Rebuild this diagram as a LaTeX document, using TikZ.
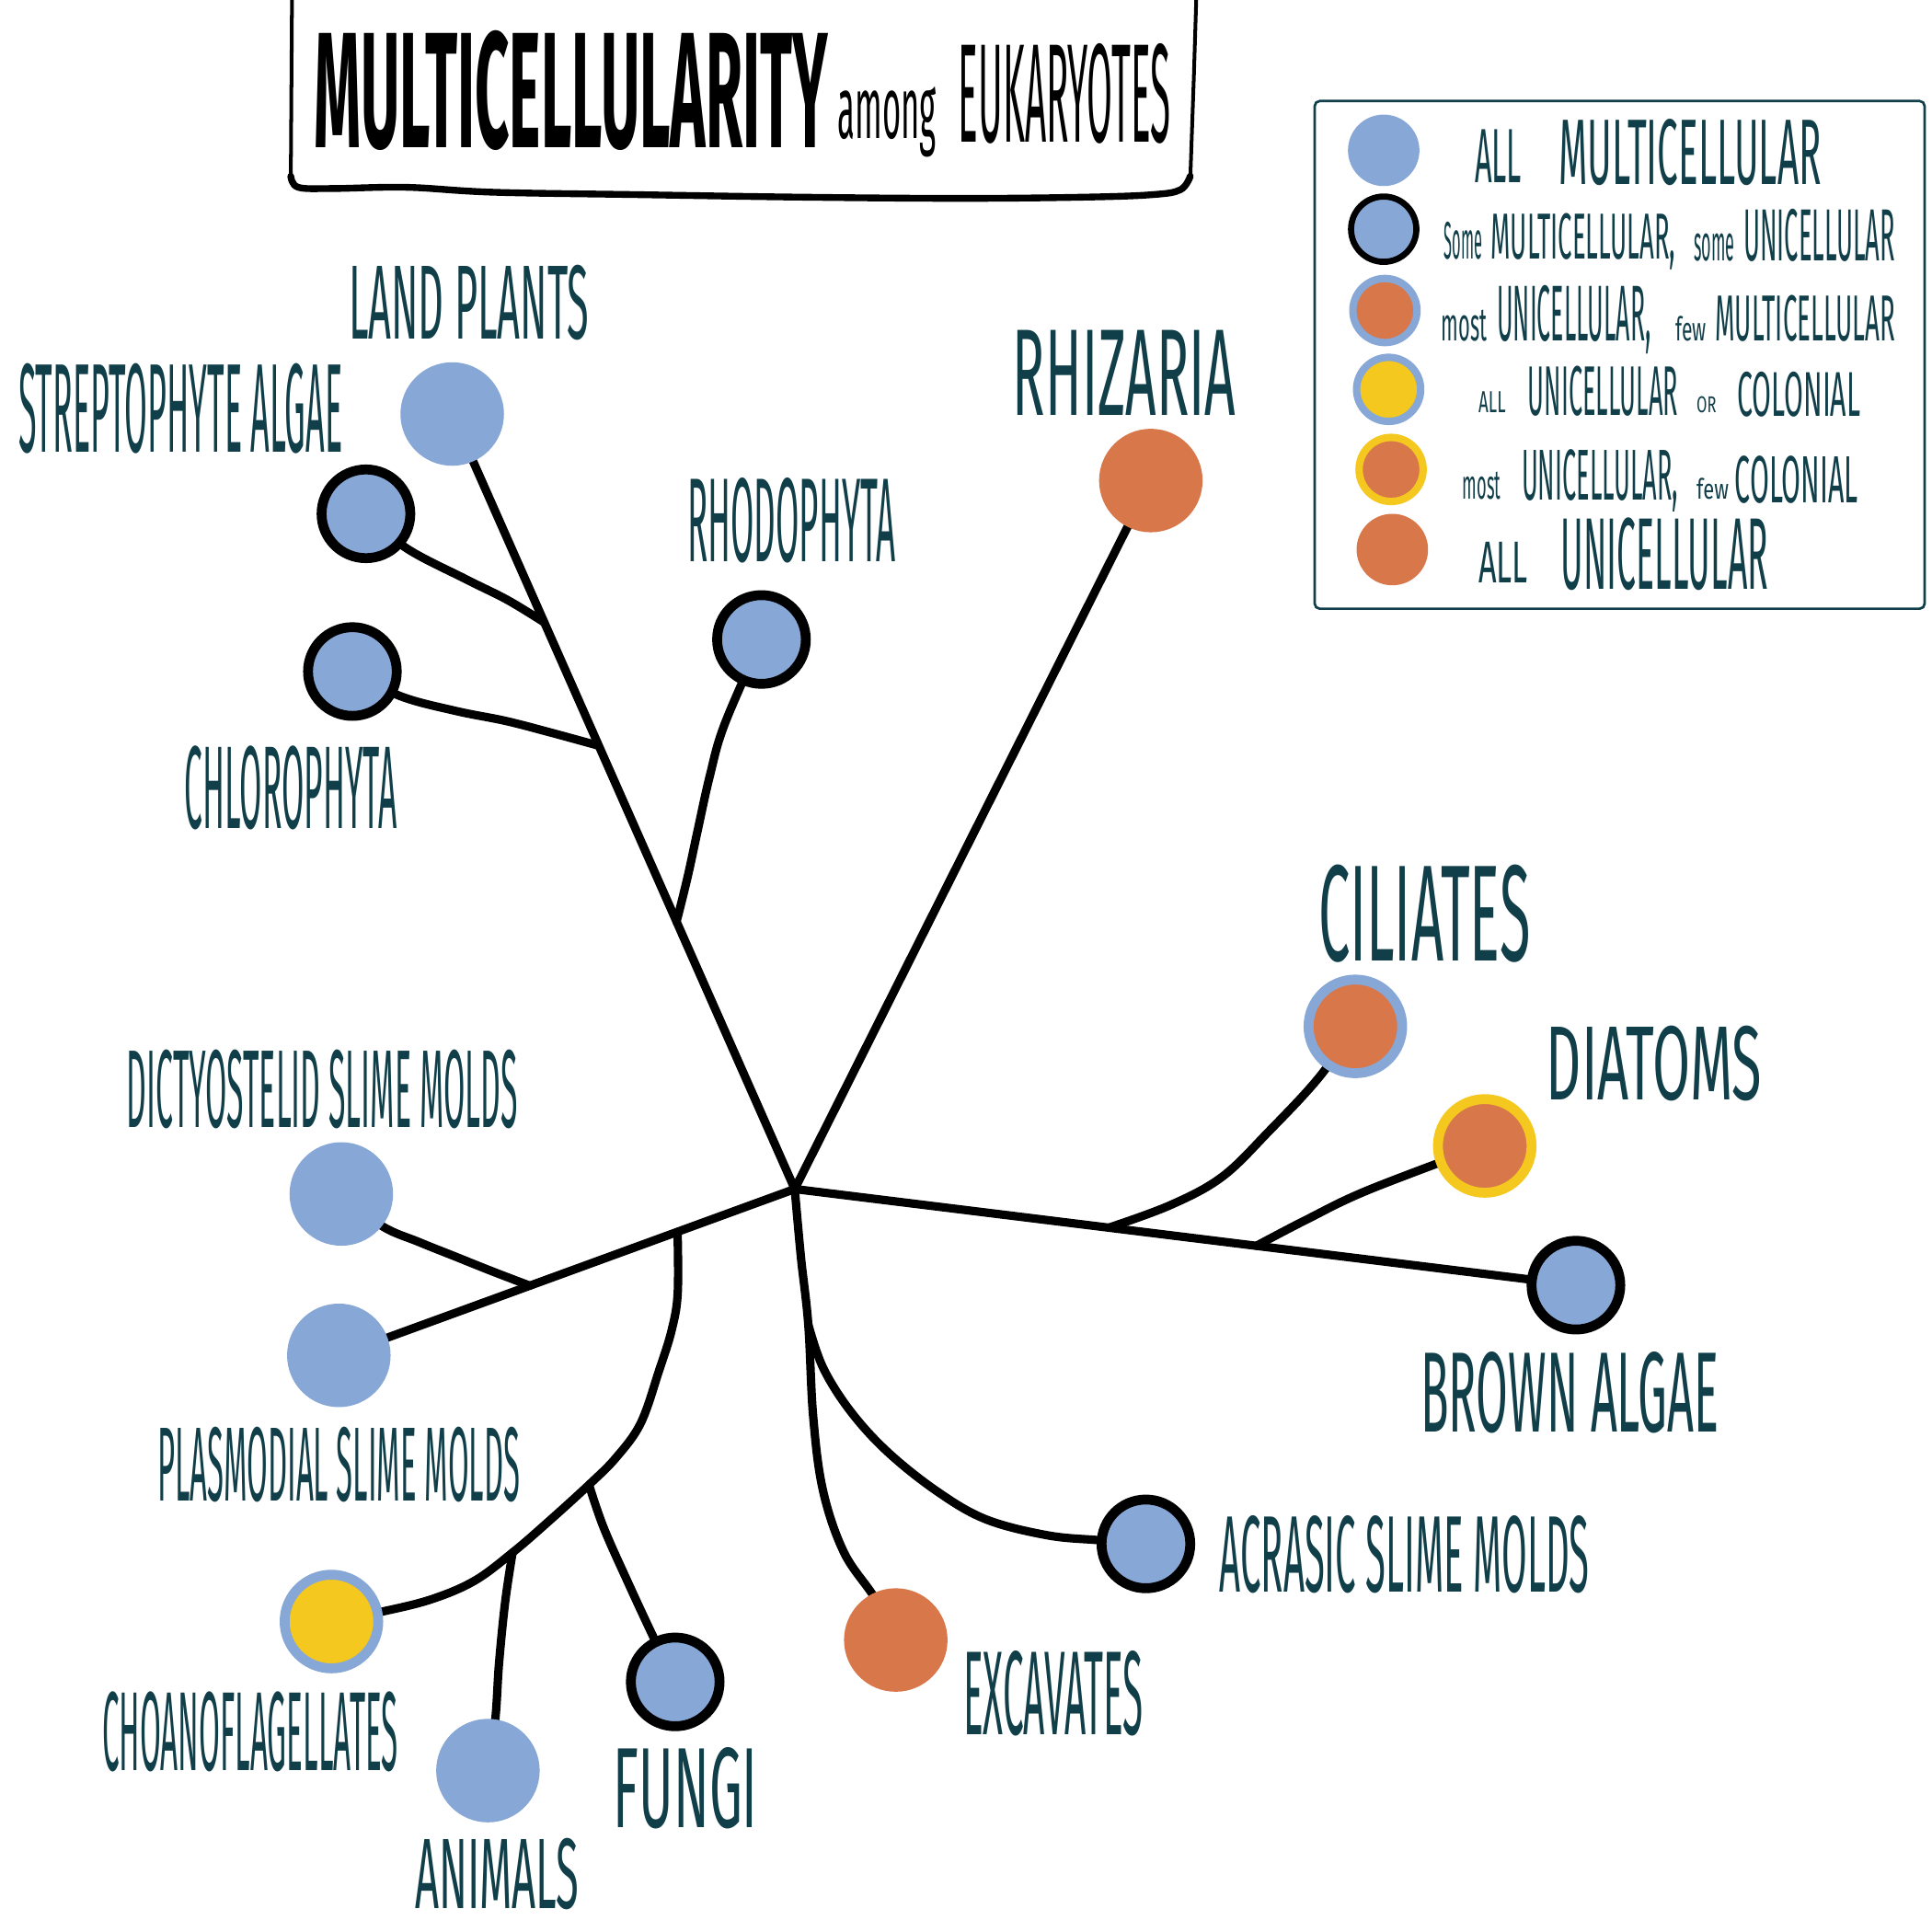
\documentclass[tikz,border=0pt]{standalone}
\usepackage{fontspec}
\setmainfont{Fira Sans}
\usepackage{graphicx}
\usetikzlibrary{calc}
\newdimen\pxu \pxu=0.013393cm
\newcommand\fit[3]{\resizebox{#1\pxu}{#2\pxu}{#3}}
\definecolor{cblue}{HTML}{87A7D6}
\definecolor{corange}{HTML}{D8784A}
\definecolor{cyellow}{HTML}{F4C81E}
\definecolor{cteal}{HTML}{113F49}
\pgfdeclarelayer{bg}
\pgfsetlayers{bg,main}
\begin{document}
\begin{tikzpicture}[x=\pxu, y=-\pxu,
  branch/.style={line width=6.8\pxu, line cap=round, line join=round, black},
  lbl/.style={inner sep=0, outer sep=0, text=cteal, anchor=base west},
  ttl/.style={inner sep=0, outer sep=0, text=black, anchor=base west, font=\bfseries},
  dot/.style={circle, inner sep=0, outer sep=0, minimum size=84\pxu, draw=none},
  allmc/.style={dot, fill=cblue},
  allun/.style={dot, fill=corange},
  somemc/.style={circle, inner sep=0, outer sep=0, minimum size=72\pxu, fill=cblue, draw=black, line width=8\pxu},
  mostun/.style={circle, inner sep=0, outer sep=0, minimum size=76\pxu, fill=corange, draw=cblue, line width=8\pxu},
  colon/.style={circle, inner sep=0, outer sep=0, minimum size=76\pxu, fill=cyellow, draw=cblue, line width=8\pxu},
  mostcol/.style={circle, inner sep=0, outer sep=0, minimum size=76\pxu, fill=corange, draw=cyellow, line width=8\pxu},
]
\begin{pgfonlayer}{bg}
\fill[white] (0,0) rectangle (1568,1568);
\end{pgfonlayer}
\useasboundingbox (0,0) rectangle (1568,1568);

% ---------- title frame ----------
\draw[line width=3\pxu, line cap=round] (237,-5) -- (236,146);
\draw[line width=5.5\pxu, line cap=round, line join=round] plot[smooth, tension=0.6] coordinates {(236,143) (242,152) (270,153) (330,152) (400,156) (520,158) (650,160) (780,161) (880,160) (935,158) (958,154) (966,143)};
\draw[line width=3\pxu, line cap=round] (966,146) -- (969,60) -- (971,-5);
\node[ttl] (t1) at (255,120) {\fit{417}{95}{MULTICELLULARITY}};
\node[ttl, font=\mdseries] (t2) at (680,112) {\fit{80}{42}{among}};
\node[ttl, font=\mdseries] (t3) at (778,115) {\fit{172}{80}{EUKARYOTES}};

% ---------- legend ----------
\draw[cteal, line width=2\pxu, rounded corners=4\pxu] (1067,82) rectangle (1562,494);
\node[allmc, minimum size=58\pxu] (l1) at (1123,122) {};
\node[somemc, minimum size=53\pxu, line width=5\pxu] (l2) at (1123,186) {};
\node[mostun, minimum size=52\pxu, line width=6\pxu] (l3) at (1124,252) {};
\node[colon, minimum size=52\pxu, line width=6\pxu] (l4) at (1127,316) {};
\node[mostcol, minimum size=52\pxu, line width=6\pxu] (l5) at (1129,381) {};
\node[allun, minimum size=58\pxu] (l6) at (1130,446) {};

\node[lbl] (l1a) at (1197,148) {\fit{38}{43}{ALL}};
\node[lbl] (l1b) at (1265,150) {\fit{213}{53}{MULTICELLULAR}};

\node[lbl] (l2a) at (1172,210) {\fit{31}{30}{Some}};
\node[lbl] (l2b) at (1210,210) {\fit{150}{37}{MULTICELLULAR,}};
\node[lbl] (l2c) at (1375,212) {\fit{33}{22}{some}};
\node[lbl] (l2d) at (1415,212) {\fit{123}{42}{UNICELLULAR}};

\node[lbl] (l3a) at (1170,277) {\fit{37}{25}{most}};
\node[lbl] (l3b) at (1215,277) {\fit{125}{45}{UNICELLULAR,}};
\node[lbl] (l3c) at (1360,277) {\fit{25}{20}{few}};
\node[lbl] (l3d) at (1392,277) {\fit{146}{37}{MULTICELLULAR}};

\node[lbl] (l4a) at (1200,335) {\fit{22}{17}{ALL}};
\node[lbl] (l4b) at (1240,337) {\fit{122}{40}{UNICELLULAR}};
\node[lbl] (l4c) at (1377,335) {\fit{16}{13}{OR}};
\node[lbl] (l4d) at (1410,338) {\fit{100}{36}{COLONIAL}};

\node[lbl] (l5a) at (1187,405) {\fit{31}{22}{most}};
\node[lbl] (l5b) at (1235,406) {\fit{127}{41}{UNICELLULAR,}};
\node[lbl] (l5c) at (1377,405) {\fit{26}{17}{few}};
\node[lbl] (l5d) at (1408,408) {\fit{100}{38}{COLONIAL}};

\node[lbl] (l6a) at (1200,473) {\fit{40}{33}{ALL}};
\node[lbl] (l6b) at (1267,478) {\fit{168}{58}{UNICELLULAR}};

% ---------- taxa (circles) ----------
\coordinate (C) at (645,965);
\node[allmc]   (landplants) at (367,336) {};
\node[somemc]  (strepto)    at (297,417) {};
\node[somemc]  (chloro)     at (286,545) {};
\node[somemc]  (rhodo)      at (618,519) {};
\node[allun]   (rhizaria)   at (934,390) {};
\node[mostun]  (ciliates)   at (1100,833) {};
\node[mostcol] (diatoms)    at (1205,930) {};
\node[somemc]  (brown)      at (1279,1043) {};
\node[somemc]  (acrasic)    at (930,1253) {};
\node[allun]   (excavates)  at (727,1331) {};
\node[somemc]  (fungi)      at (548,1365) {};
\node[allmc]   (animals)    at (396,1437) {};
\node[colon]   (choano)     at (269,1316) {};
\node[allmc]   (plasmodial) at (275,1100) {};
\node[allmc]   (dictyo)     at (277,969) {};

% ---------- branch points ----------
\coordinate (bRho) at ($(C)!0.345!(landplants.center)$);
\coordinate (bChl) at ($(C)!0.572!(landplants.center)$);
\coordinate (bStr) at ($(C)!0.731!(landplants.center)$);
\coordinate (bCil) at ($(C)!0.402!(brown.center)$);
\coordinate (bDia) at ($(C)!0.591!(brown.center)$);
\coordinate (bDic) at ($(C)!0.581!(plasmodial.center)$);
\coordinate (bOpi) at ($(C)!0.257!(plasmodial.center)$);
\coordinate (bAcr) at (656,1075);
\coordinate (bFun) at (478,1205);
\coordinate (bAni) at (416,1260);

% ---------- branches ----------
\begin{pgfonlayer}{bg}
\draw[branch] (C) -- (landplants.center);
\draw[branch] (C) -- (rhizaria.center);
\draw[branch] (C) -- (brown.center);
\draw[branch] (C) -- (plasmodial.center);
\draw[branch] plot[smooth, tension=0.6] coordinates {(strepto.center) (330,445) (378,470) (412,487) (bStr)};
\draw[branch] plot[smooth, tension=0.6] coordinates {(chloro.center) (325,565) (370,577) (410,585) (445,594) (bChl)};
\draw[branch] plot[smooth, tension=0.6] coordinates {(bRho) (558,712) (566,675) (576,630) (588,588) (rhodo.center)};
\draw[branch] plot[smooth, tension=0.6] coordinates {(bCil) (950,978) (992,955) (1030,918) (1070,875) (ciliates.center)};
\draw[branch] plot[smooth, tension=0.6] coordinates {(bDia) (1060,990) (1110,966) (diatoms.center)};
\draw[branch] plot[smooth, tension=0.6] coordinates {(C) (650,1020) (bAcr) (660,1150) (668,1210) (685,1260) (710,1297) (excavates.center)};
\draw[branch] plot[smooth, tension=0.6] coordinates {(bAcr) (668,1110) (690,1145) (720,1178) (760,1210) (800,1233) (850,1246) (892,1250) (acrasic.center)};
\draw[branch] plot[smooth, tension=0.6] coordinates {(bDic) (400,1032) (370,1020) (340,1008) (310,995) (dictyo.center)};
\draw[branch] plot[smooth, tension=0.6] coordinates {(bOpi) (550,1050) (545,1080) (535,1112) (520,1155) (500,1183) (bFun) (445,1235) (bAni) (385,1283) (350,1298) (310,1308) (choano.center)};
\draw[branch] plot[smooth, tension=0.6] coordinates {(bFun) (490,1240) (510,1285) (530,1328) (fungi.center)};
\draw[branch] plot[smooth, tension=0.6] coordinates {(bAni) (410,1300) (405,1350) (402,1395) (animals.center)};
\end{pgfonlayer}

% ---------- labels ----------
\node[lbl] (nLand)  at (283,275)  {\fit{195}{60}{LAND PLANTS}};
\node[lbl] (nStr)   at (15,367)   {\fit{263}{72}{STREPTOPHYTE ALGAE}};
\node[lbl] (nRho)   at (558,456)  {\fit{169}{68}{RHODOPHYTA}};
\node[lbl] (nChl)   at (150,672)  {\fit{172}{67}{CHLOROPHYTA}};
\node[lbl] (nRhi)   at (822,337)  {\fit{181}{69}{RHIZARIA}};
\node[lbl] (nCil)   at (1070,780) {\fit{172}{78}{CILIATES}};
\node[lbl] (nDia)   at (1255,893) {\fit{175}{60}{DIATOMS}};
\node[lbl] (nBro)   at (1153,1162) {\fit{242}{65}{BROWN ALGAE}};
\node[lbl] (nAcr)   at (990,1292) {\fit{300}{62}{ACRASIC SLIME MOLDS}};
\node[lbl] (nExc)   at (782,1408) {\fit{146}{68}{EXCAVATES}};
\node[lbl] (nFun)   at (498,1483) {\fit{117}{65}{FUNGI}};
\node[lbl] (nAni)   at (337,1549) {\fit{133}{57}{ANIMALS}};
\node[lbl] (nCho)   at (83,1437)  {\fit{240}{64}{CHOANOFLAGELLATES}};
\node[lbl] (nPla)   at (128,1218) {\fit{294}{60}{PLASMODIAL SLIME MOLDS}};
\node[lbl] (nDic)   at (103,915)  {\fit{317}{63}{DICTYOSTELID SLIME MOLDS}};
\end{tikzpicture}
\end{document}
